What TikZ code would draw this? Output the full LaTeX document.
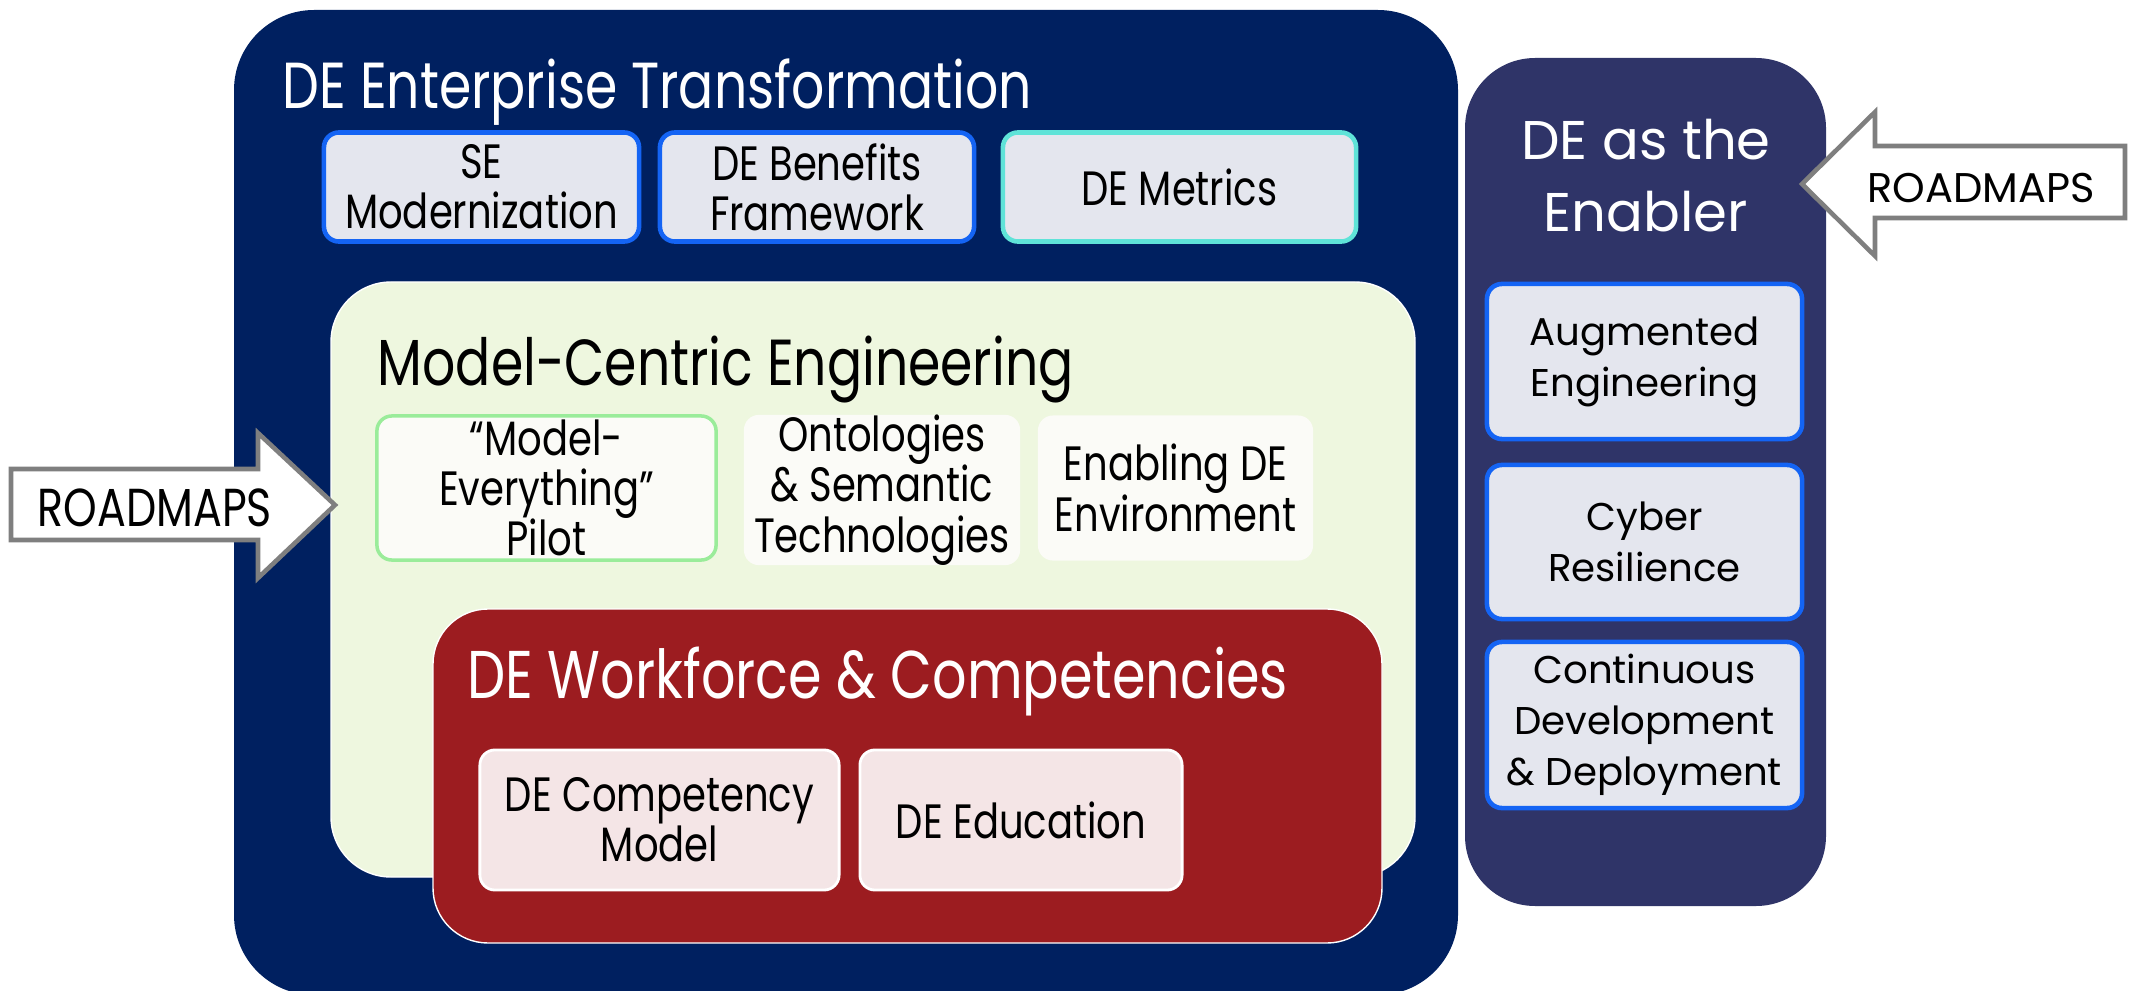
\documentclass[tikz,border=0pt]{standalone}
\usepackage{fontspec}
\setmainfont{Poppins}
\newfontfamily\narrowfont[FakeStretch=0.8]{Poppins}
\usetikzlibrary{positioning}
\definecolor{denavy}{HTML}{002060}
\definecolor{deside}{HTML}{2F3468}
\definecolor{degreen}{HTML}{EEF7DF}
\definecolor{dered}{HTML}{9C1C20}
\definecolor{deboxgray}{HTML}{E4E6EE}
\definecolor{deblue}{HTML}{1464F4}
\definecolor{decyan}{HTML}{5FE3D8}
\definecolor{depilot}{HTML}{9AEC9A}
\definecolor{depaper}{HTML}{FBFBF7}
\definecolor{depink}{HTML}{F4E5E6}
\definecolor{dearrow}{HTML}{7F7F7F}

\begin{document}
\begin{tikzpicture}[x=0.01cm,y=-0.01cm,leftbox/.style={shape=rectangle,rounded corners=0.15cm,align=center,inner sep=0pt,text=black,font=\narrowfont\fontsize{13.7}{14.3}\selectfont},topbox/.style={leftbox,draw=deblue,line width=1.3pt,fill=deboxgray},pilotbox/.style={leftbox,draw=depilot,line width=1pt,fill=depaper},plainbox/.style={leftbox,fill=depaper},wfbox/.style={leftbox,draw=white,line width=0.8pt,fill=depink},enabox/.style={topbox,font=\fontsize{11}{14.5}\selectfont},bigtitle/.style={anchor=base west,inner sep=0pt,font=\narrowfont\fontsize{18.5}{20}\selectfont},roadarrow/.style={fill=white,draw=dearrow,line width=1.3pt}]
\useasboundingbox (0,0) rectangle (2133,991);

\begin{scope}
\clip (0,0) rectangle (2133,991);
\fill[denavy,rounded corners=0.8cm] (234,10) rectangle (1458,995);
\end{scope}
\fill[deside,rounded corners=0.7cm] (1465,58) rectangle (1826,906);

\node[bigtitle,text=white] (entitle) at (282,109) {DE Enterprise Transformation};
\node[topbox,minimum width=3.15cm,minimum height=1.09cm] (semod) at (481.5,187) {SE\\Modernization};
\node[topbox,minimum width=3.14cm,minimum height=1.09cm] (debf) at (817,187) {DE Benefits\\Framework};
\node[topbox,draw=decyan,minimum width=3.53cm,minimum height=1.09cm] (demet) at (1179.5,187) {DE Metrics};

\draw[draw=white,fill=degreen,rounded corners=0.6cm] (331,282) rectangle (1415,877);
\node[bigtitle,text=black] (mcetitle) at (377,385) {Model-Centric Engineering};
\node[pilotbox,minimum width=3.39cm,minimum height=1.44cm] (pilot) at (546.5,488) {“Model-\\Everything”\\Pilot};
\node[plainbox,minimum width=2.76cm,minimum height=1.40cm] (onto) at (882,490) {Ontologies\\\& Semantic\\Technologies};
\node[plainbox,minimum width=2.75cm,minimum height=1.45cm] (enenv) at (1175.5,488) {Enabling DE\\Environment};

\draw[draw=white,fill=dered,rounded corners=0.55cm] (433,609) rectangle (1382,943);
\node[bigtitle,text=white,font=\narrowfont\fontsize{19.2}{20}\selectfont] (wftitle) at (467,698) {DE Workforce \& Competencies};
\node[wfbox,minimum width=3.59cm,minimum height=1.40cm] (compmod) at (659.5,820) {DE Competency\\Model};
\node[wfbox,minimum width=3.22cm,minimum height=1.40cm] (deedu) at (1021,820) {DE Education};

\node[align=center,text=white,font=\fontsize{15.5}{20.5}\selectfont] (enabler) at (1646,176) {DE as the\\Enabler};
\node[enabox,minimum width=3.15cm,minimum height=1.55cm] (augeng) at (1644.5,361.5) {Augmented\\Engineering};
\node[enabox,minimum width=3.15cm,minimum height=1.54cm] (cyber) at (1644.5,542) {Cyber\\Resilience};
\node[enabox,minimum width=3.15cm,minimum height=1.66cm] (contdev) at (1644.5,725) {Continuous\\Development\\\& Deployment};

\draw[roadarrow] (11,469) -- (258,469) -- (258,433) -- (335,505) -- (258,578) -- (258,540) -- (11,540) -- cycle;
\node[font=\narrowfont\fontsize{15.2}{16}\selectfont] (roadleft) at (155,508) {ROADMAPS};
\draw[roadarrow] (2125,146) -- (1875,146) -- (1875,112) -- (1802,184) -- (1875,256) -- (1875,218) -- (2125,218) -- cycle;
\node[font=\fontsize{11.8}{13}\selectfont] (roadright) at (1981,188) {ROADMAPS};

\end{tikzpicture}
\end{document}
